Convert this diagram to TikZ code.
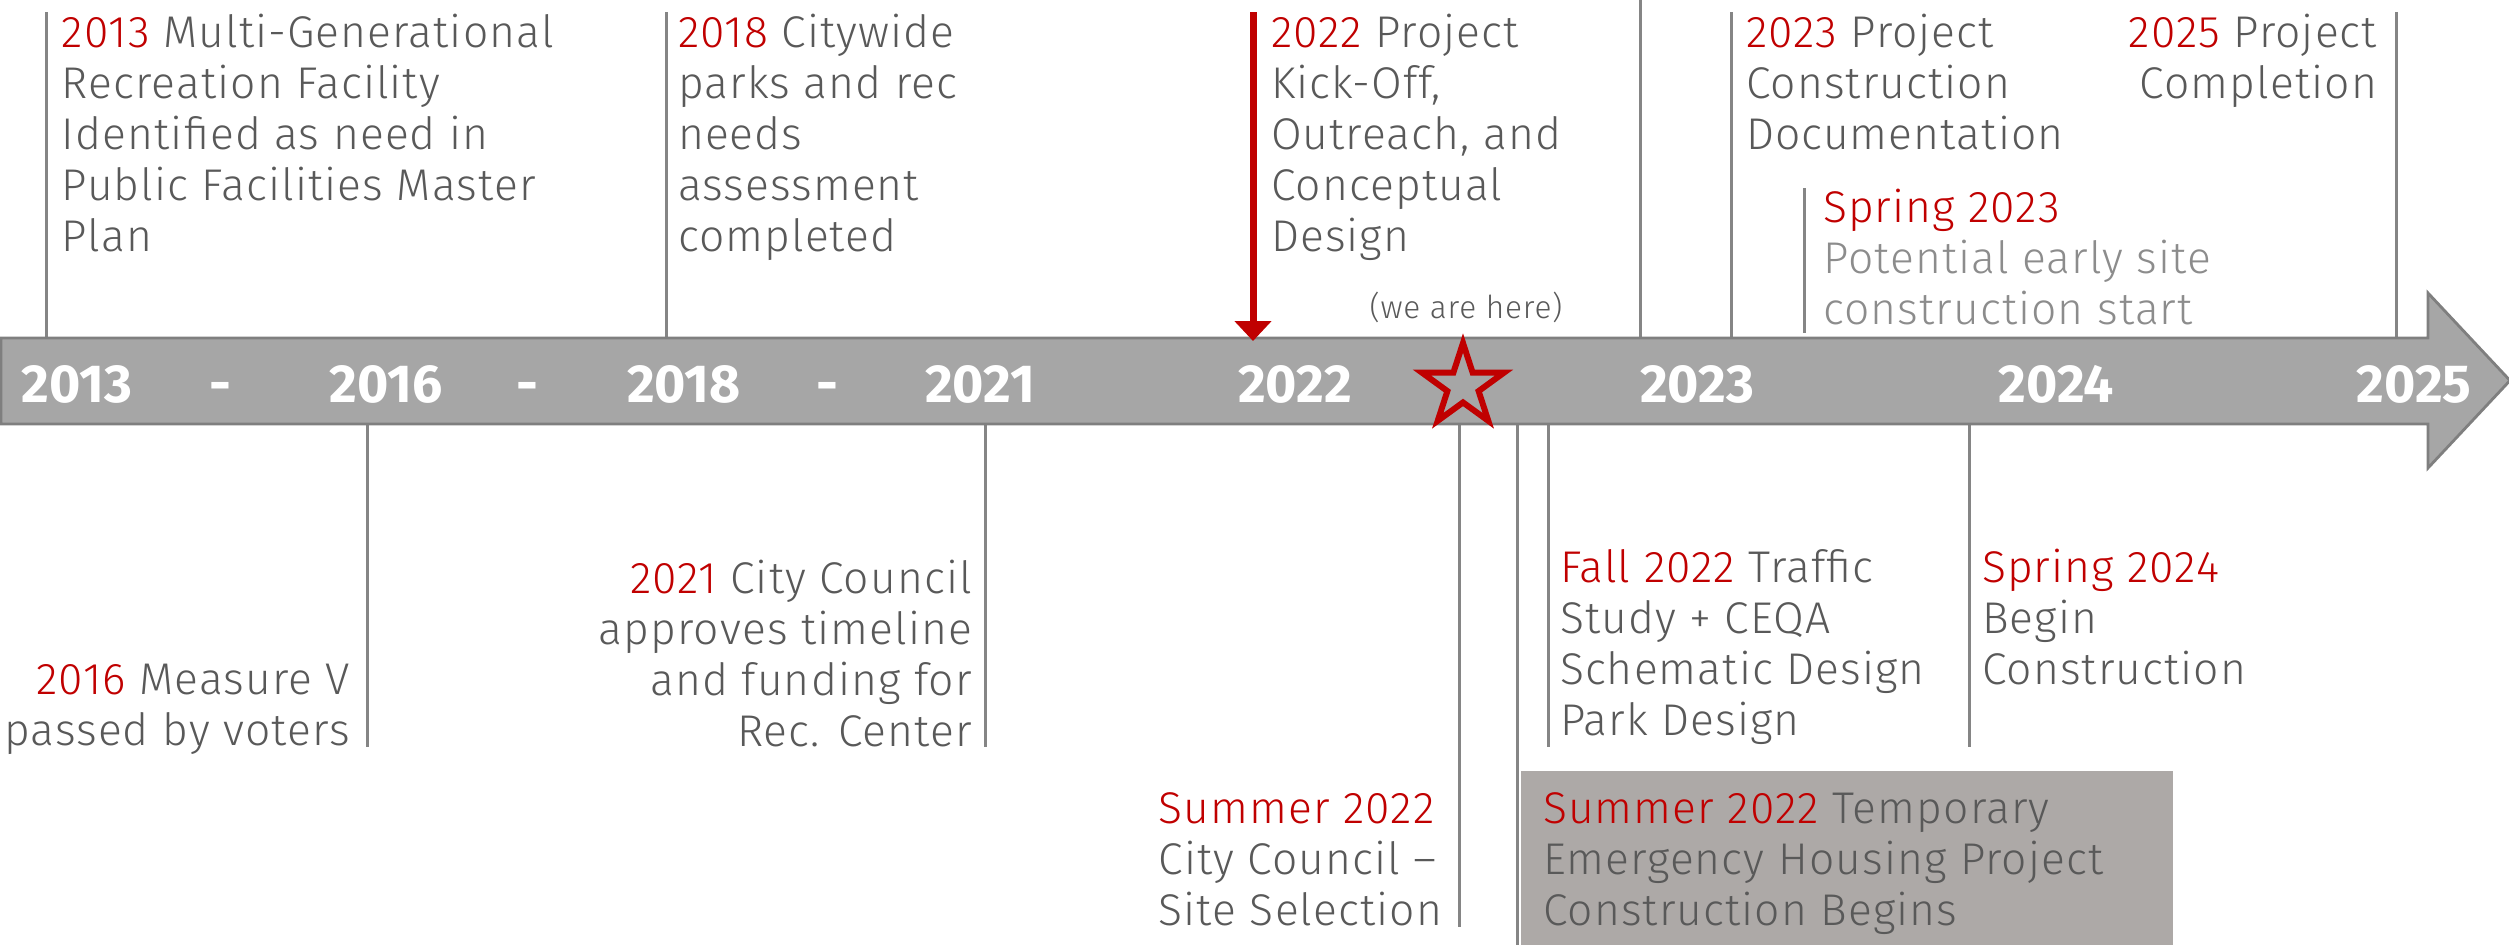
\documentclass[tikz,border=0pt]{standalone}
\usepackage{fontspec}
\setmainfont{Fira Sans Light}[LetterSpace=2.5]
\newfontfamily\yearfont{Fira Sans Bold}
\usetikzlibrary{shapes.geometric,arrows.meta}
\definecolor{tred}{HTML}{C00000}
\definecolor{ttext}{HTML}{595959}
\definecolor{tlight}{HTML}{8C8C8C}
\definecolor{tband}{HTML}{A6A6A6}
\definecolor{tborder}{HTML}{7F7F7F}
\definecolor{tbox}{HTML}{ADA9A7}
\definecolor{tline}{HTML}{858585}
\newcommand\yr[1]{\textcolor{tred}{#1}}
\newcommand\lblock[1]{\begin{tabular}[t]{@{}l@{}}#1\end{tabular}}
\newcommand\rblock[1]{\begin{tabular}[t]{@{}r@{}}#1\end{tabular}}
\begin{document}
\begin{tikzpicture}[x=0.25pt,y=-0.25pt,
  body/.style={inner sep=0pt, outer sep=0pt, text=ttext, font=\fontsize{11.1pt}{12.75pt}\selectfont},
  lbody/.style={body, anchor=base west},
  rbody/.style={body, anchor=base east},
  tick/.style={draw=tline, line width=0.75pt},
  yearlbl/.style={text=white, inner sep=0pt, anchor=base, font=\yearfont\fontsize{13.4pt}{13.4pt}\selectfont},
]
\useasboundingbox (0,0) rectangle (2509,945);

% ---- top ticks ----
\coordinate (a13) at (46,12);   \coordinate (b13) at (46,338);
\coordinate (a18) at (666,12);  \coordinate (b18) at (666,338);
\coordinate (ax)  at (1640,0);  \coordinate (bx)  at (1640,338);
\coordinate (a23) at (1731,12); \coordinate (b23) at (1731,338);
\coordinate (as3) at (1804,188);\coordinate (bs3) at (1804,333);
\coordinate (a25) at (2396,12); \coordinate (b25) at (2396,338);
\foreach \p in {13,18,x,23,s3,25} \draw[tick] (a\p) -- (b\p);

% ---- bottom ticks ----
\coordinate (c16) at (367,424);  \coordinate (d16) at (367,747);
\coordinate (c21) at (985,424);  \coordinate (d21) at (985,747);
\coordinate (cs2) at (1459,424); \coordinate (ds2) at (1459,927);
\coordinate (ch)  at (1517,424); \coordinate (dh)  at (1517,945);
\coordinate (cf2) at (1548,424); \coordinate (df2) at (1548,747);
\coordinate (cs4) at (1969,424); \coordinate (ds4) at (1969,747);
\foreach \p in {16,21,s2,h,f2,s4} \draw[tick] (c\p) -- (d\p);

% ---- grey box ----
\node[fill=tbox, inner sep=0pt, outer sep=0pt, anchor=north west, minimum width=163pt, minimum height=43.5pt] (hbox) at (1521,771) {};

% ---- band arrow ----
\draw[draw=tborder, fill=tband, line width=0.7pt] (1,338) -- (2428,338) -- (2428,293) -- (2510,380.5) -- (2428,468) -- (2428,424) -- (1,424) -- cycle;

% ---- year labels ----
\node[yearlbl] (y13) at (77,402) {2013};
\node[yearlbl] (d1)  at (220,402) {-};
\node[yearlbl] (y16) at (386,402) {2016};
\node[yearlbl] (d2)  at (527,402) {-};
\node[yearlbl] (y18) at (684,402) {2018};
\node[yearlbl] (d3)  at (827,402) {-};
\node[yearlbl] (y21) at (980,402) {2021};
\node[yearlbl] (y22) at (1295,402) {2022};
\node[yearlbl] (y23) at (1697,402) {2023};
\node[yearlbl] (y24) at (2056,402) {2024};
\node[yearlbl] (y25) at (2414,402) {2025};

% ---- star ----
\node[star, star points=5, star point ratio=2.618, draw=tred, line width=1.5pt, inner sep=0pt, minimum size=21.5pt] (here) at (1463,386) {};
\node[body, anchor=base, font=\fontsize{7.9pt}{9pt}\selectfont] (herelbl) at (1466,318) {(we are here)};

% ---- red arrow ----
\coordinate (ra) at (1253,12);
\coordinate (rb) at (1253,341);
\draw[tred, line width=1.75pt, -{Triangle[width=9pt,length=5pt]}] (ra) -- (rb);

% ---- top texts ----
\node[lbody] (t13) at (62,47) {\lblock{\yr{2013} Multi-Generational\\ Recreation Facility\\ Identified as need in\\ Public Facilities Master\\ Plan}};
\node[lbody] (t18) at (678,47) {\lblock{\yr{2018} Citywide\\ parks and rec\\ needs\\ assessment\\ completed}};
\node[lbody] (t22) at (1271,47) {\lblock{\yr{2022} Project\\ Kick-Off,\\ Outreach, and\\ Conceptual\\ Design}};
\node[lbody] (t23) at (1746,47) {\lblock{\yr{2023} Project\\ Construction\\ Documentation}};
\node[lbody, text=tlight] (ts3) at (1823,222) {\lblock{\yr{Spring 2023}\\ Potential early site\\ construction start}};
\node[rbody] (t25) at (2377,47) {\rblock{\yr{2025} Project\\ Completion}};

% ---- bottom texts ----
\node[rbody] (t16) at (350,694) {\rblock{\yr{2016} Measure V\\ passed by voters}};
\node[rbody] (t21) at (972,593) {\rblock{\yr{2021} City Council\\ approves timeline\\ and funding for\\ Rec. Center}};
\node[rbody] (ts2) at (1442,823) {\lblock{\yr{Summer 2022}\\ City Council –\\ Site Selection}};
\node[lbody] (th) at (1543,823) {\lblock{\yr{Summer 2022} Temporary\\ Emergency Housing Project\\ Construction Begins}};
\node[lbody] (tf2) at (1560,582) {\lblock{\yr{Fall 2022} Traffic\\ Study + CEQA\\ Schematic Design\\ Park Design}};
\node[lbody] (ts4) at (1982,582) {\lblock{\yr{Spring 2024}\\ Begin\\ Construction}};
\end{tikzpicture}
\end{document}
